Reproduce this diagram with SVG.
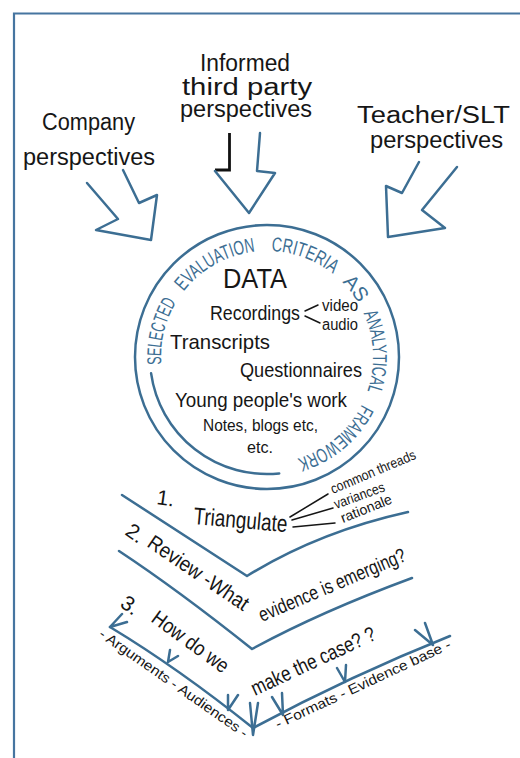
<svg xmlns="http://www.w3.org/2000/svg" width="520" height="758" viewBox="0 0 520 758">
  <style>
    .blue { fill: none; stroke: #3c6e93; stroke-width: 2.5; stroke-linecap: round; stroke-linejoin: round; }
    .ink { fill: none; stroke: #161616; stroke-width: 1.5; stroke-linecap: round; stroke-linejoin: round; }
    .txt { font-family: "Liberation Sans", Arial, sans-serif; fill: #161616; }
    .ring { font-family: "Liberation Sans", Arial, sans-serif; fill: #3c6e93; font-size: 20px; }
    .l { font-size: 23px; }
    .m { font-size: 21px; }
    .s { font-size: 16px; }
    .xs { font-size: 14px; }
  </style>
  <defs>
    <!-- clockwise baseline for the ring lettering, starting at 170 degrees -->
    <path id="ringPath" d="M162.61,375.41 A106,106 0 0 1 371.39,338.59 A106,106 0 0 1 162.61,375.41"/>
  </defs>

  <rect width="520" height="758" fill="#ffffff"/>
  <!-- frame: only the top and left edges fall inside the page -->
  <path d="M14,758 L14,13.5 L520,13.5" fill="none" stroke="#4675a0" stroke-width="2.2"/>

  <g id="connectors">
    <!-- block arrow from company perspectives -->
    <polyline class="blue" points="87,183 118,219 96,230 151,240 157,195 139,203 123,170"/>
    <!-- block arrow from third party perspectives (left shaft inked black) -->
    <polyline fill="none" stroke="#111" stroke-width="2.8" stroke-linejoin="miter" points="229.5,133 229.5,170 215,170"/>
    <polyline class="blue" points="215,171 249,213 275,173 257,171 260,133"/>
    <!-- block arrow from teacher / SLT perspectives -->
    <polyline class="blue" points="419,162 402,193 386,186 388,237 445,228 422,210 457,167"/>
  </g>

  <g id="company">
    <text class="txt l" x="42" y="130" textLength="93" lengthAdjust="spacingAndGlyphs">Company</text>
    <text class="txt l" x="23" y="165" textLength="132" lengthAdjust="spacingAndGlyphs">perspectives</text>
  </g>

  <g id="third-party">
    <text class="txt l" x="200" y="71" textLength="90" lengthAdjust="spacingAndGlyphs">Informed</text>
    <text class="txt l" x="182" y="95" textLength="130" lengthAdjust="spacingAndGlyphs">third party</text>
    <text class="txt l" x="180" y="117" textLength="132" lengthAdjust="spacingAndGlyphs">perspectives</text>
  </g>

  <g id="teacher">
    <text class="txt l" x="357" y="123" textLength="153" lengthAdjust="spacingAndGlyphs">Teacher/SLT</text>
    <text class="txt l" x="370" y="148" textLength="133" lengthAdjust="spacingAndGlyphs">perspectives</text>
  </g>

  <g id="data">
    <circle class="blue" cx="267" cy="357" r="132"/>
    <path class="blue" d="M151.1,373.3 A117,117 0 0 0 279.2,473.4"/>
    <text class="ring"><textPath href="#ringPath" startOffset="11" textLength="65" lengthAdjust="spacingAndGlyphs">SELECTED</textPath></text>
    <text class="ring"><textPath href="#ringPath" startOffset="89" textLength="84" lengthAdjust="spacingAndGlyphs">EVALUATION</textPath></text>
    <text class="ring"><textPath href="#ringPath" startOffset="189" textLength="67" lengthAdjust="spacingAndGlyphs">CRITERIA</textPath></text>
    <text class="ring"><textPath href="#ringPath" startOffset="268" textLength="27" lengthAdjust="spacingAndGlyphs">AS</textPath></text>
    <text class="ring"><textPath href="#ringPath" startOffset="306" textLength="80" lengthAdjust="spacingAndGlyphs">ANALYTICAL</textPath></text>
    <text class="ring"><textPath href="#ringPath" startOffset="400" textLength="87" lengthAdjust="spacingAndGlyphs">FRAMEWORK</textPath></text>

    <text class="txt" font-size="27" x="223" y="288" textLength="64" lengthAdjust="spacingAndGlyphs">DATA</text>
    <text class="txt m" x="210" y="320" textLength="90" lengthAdjust="spacingAndGlyphs">Recordings</text>
    <path class="ink" d="M305,311 L318,305 M305,316 L320,323"/>
    <text class="txt s" x="322" y="311" textLength="36" lengthAdjust="spacingAndGlyphs">video</text>
    <text class="txt s" x="322" y="330" textLength="36" lengthAdjust="spacingAndGlyphs">audio</text>
    <text class="txt m" x="170" y="349" textLength="100" lengthAdjust="spacingAndGlyphs">Transcripts</text>
    <text class="txt m" x="240" y="377" textLength="122" lengthAdjust="spacingAndGlyphs">Questionnaires</text>
    <text class="txt m" x="175" y="407" textLength="172" lengthAdjust="spacingAndGlyphs">Young people's work</text>
    <text class="txt s" x="203" y="431" textLength="115" lengthAdjust="spacingAndGlyphs">Notes, blogs etc,</text>
    <text class="txt s" x="247" y="453" textLength="26" lengthAdjust="spacingAndGlyphs">etc.</text>
  </g>

  <g id="step1">
    <path class="blue" d="M122,495 L247,576 Q318,532 408,512"/>
    <text class="txt m" transform="translate(156,504) rotate(8)">1.</text>
    <text class="txt" font-size="24" transform="translate(193,524) rotate(5)" textLength="94" lengthAdjust="spacingAndGlyphs">Triangulate</text>
    <path class="ink" d="M290,517 L328,494 M292,520 L333,508 M293,527 L335,523"/>
    <text class="txt xs" transform="translate(333,494) rotate(-23)" textLength="91" lengthAdjust="spacingAndGlyphs">common threads</text>
    <text class="txt xs" transform="translate(336,509) rotate(-20)" textLength="53" lengthAdjust="spacingAndGlyphs">variances</text>
    <text class="txt xs" transform="translate(343,523) rotate(-22)" textLength="54" lengthAdjust="spacingAndGlyphs">rationale</text>
  </g>

  <g id="step2">
    <path class="blue" d="M119,551 Q178,590 252,649 Q320,612 412,578"/>
    <text class="txt m" transform="translate(124,534) rotate(35)">2.</text>
    <text class="txt m" transform="translate(146,546) rotate(34)" textLength="117" lengthAdjust="spacingAndGlyphs">Review -What</text>
    <text class="txt" font-size="20" transform="translate(262,622) rotate(-23)" textLength="158" lengthAdjust="spacingAndGlyphs">evidence is emerging?</text>
  </g>

  <g id="step3">
    <path class="blue" d="M110,627 Q178,668 253,728 Q350,676 450,636"/>
    <path class="blue" d="M122,614 L110,627 L127,622 M170,650 L168,662 L178,656 M228,695 L228,710 L238,695 M250,703 L253,735 L258,703 M272,697 L283,715 L282,693 M337,668 L345,682 L346,665 M415,630 L433,645 L425,623"/>
    <text class="txt m" transform="translate(119,606) rotate(35)">3.</text>
    <text class="txt m" transform="translate(150,621) rotate(36)" textLength="90" lengthAdjust="spacingAndGlyphs">How do we</text>
    <text class="txt m" transform="translate(255,696) rotate(-25)" textLength="135" lengthAdjust="spacingAndGlyphs">make the case? ?</text>
    <text class="txt xs" transform="translate(98,636) rotate(35)" textLength="178" lengthAdjust="spacingAndGlyphs">- Arguments - Audiences -</text>
    <text class="txt xs" transform="translate(278,729) rotate(-25)" textLength="192" lengthAdjust="spacingAndGlyphs">- Formats - Evidence base -</text>
  </g>
</svg>
